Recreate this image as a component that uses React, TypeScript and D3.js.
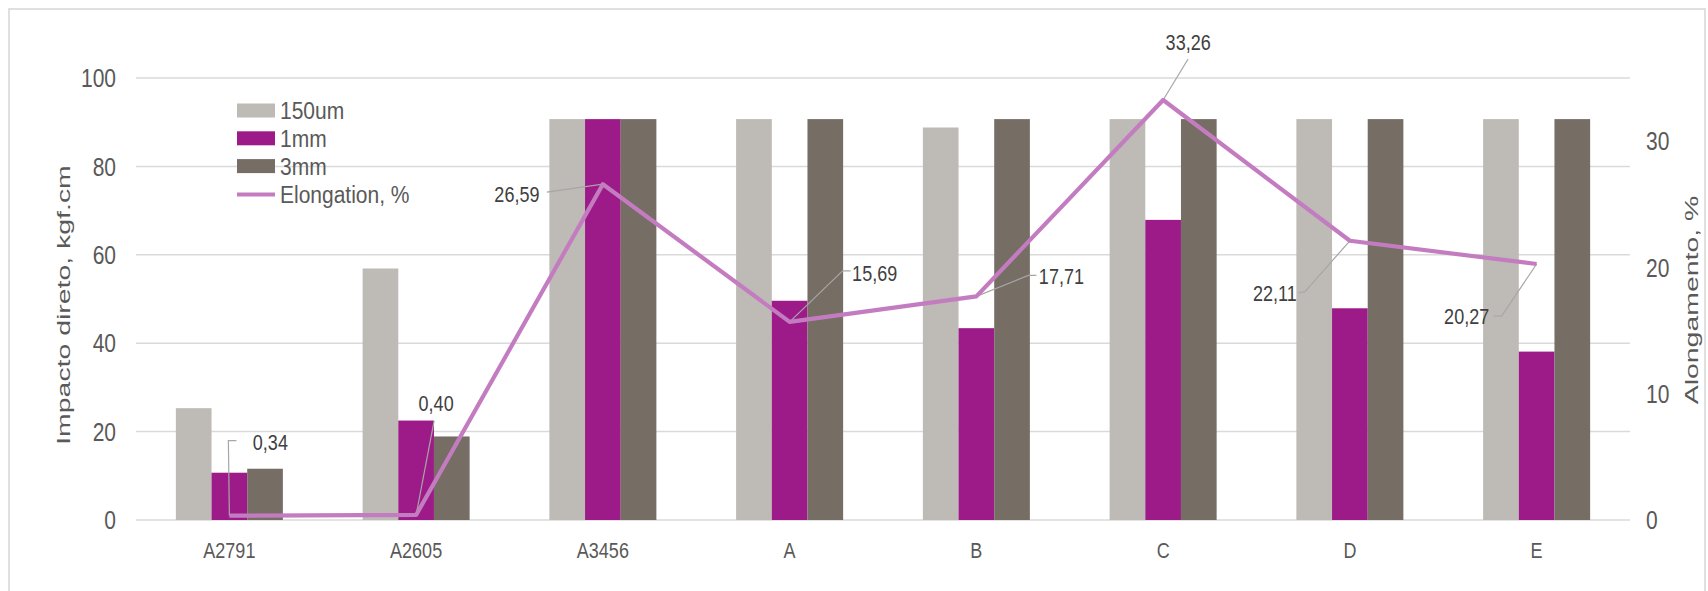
import React from "react";
import * as d3 from "d3";

// ---------- data ----------
const categories = ["A2791", "A2605", "A3456", "A", "B", "C", "D", "E"];
const seriesNames = ["150um", "1mm", "3mm"];
const s150um = [25.3, 56.9, 90.7, 90.7, 88.8, 90.7, 90.7, 90.7];
const s1mm = [10.7, 22.5, 90.7, 49.6, 43.4, 67.9, 47.9, 38.1];
const s3mm = [11.6, 18.9, 90.7, 90.7, 90.7, 90.7, 90.7, 90.7];
const elongationName = "Elongation, %";
const elongation = [0.34, 0.4, 26.59, 15.69, 17.71, 33.26, 22.11, 20.27];
const leftTicks = [0, 20, 40, 60, 80, 100];
const rightTicks = [0, 10, 20, 30];
const leftTitle = "Impacto direto, kgf.cm";
const rightTitle = "Alongamento, %";

// ---------- layout / style ----------
const W = 1708;
const H = 591;
const M = { left: 136, right: 1630, top: 78, bottom: 520 };
const colors = ["#BEBAB5", "#9D1B88", "#766D65"];
const lineColor = "#C47CC1";
const gridColor = "#DADADA";
const textColor = "#595959";
const FONT = "'Liberation Sans', Arial, sans-serif";

// label placement relative to the data point: text centre (tx,ty), leader path points
const labelLayout = [
  { tx: 41, ty: -74, leader: [[-1, -75], [7, -75]] },
  { tx: 20, ty: -112, leader: [[18, -94]] },
  { tx: -86, ty: 10, leader: [[-56, 8]] },
  { tx: 85, ty: -49, leader: [[53, -51], [61, -51]] },
  { tx: 85, ty: -20, leader: [[52, -21], [60, -21]] },
  { tx: 25, ty: -58, leader: [[25, -41]] },
  { tx: -75, ty: 52, leader: [[-45, 51], [-51, 52]] },
  { tx: -70, ty: 52, leader: [[-35, 52], [-43, 52]] },
];

function T(props: {
  x: number;
  y: number;
  f: number;
  ky: number;
  anchor?: string;
  rotate?: boolean;
  fill?: string;
  children: React.ReactNode;
}) {
  const { x, y, f, ky, anchor = "middle", rotate = false, fill = textColor } = props;
  return (
    <text
      transform={`translate(${x},${y}) scale(1,${ky})${rotate ? " rotate(-90)" : ""}`}
      fontFamily={FONT}
      fontSize={f}
      textAnchor={anchor}
      dy={rotate ? undefined : "0.36em"}
      fill={fill}
    >
      {props.children}
    </text>
  );
}

export default function App() {
  const series = [s150um, s1mm, s3mm];
  const x0 = d3
    .scaleBand<string>()
    .domain(categories)
    .range([M.left, M.right])
    .paddingInner(0.427)
    .paddingOuter(0.2135);
  const x1 = d3
    .scaleBand<string>()
    .domain(seriesNames)
    .range([0, x0.bandwidth()]);
  const yL = d3.scaleLinear().domain([0, 100]).range([M.bottom, M.top]);
  const yR = d3.scaleLinear().domain([0, 35]).range([M.bottom, M.top]);
  const cx = (c: string) => (x0(c) as number) + x0.bandwidth() / 2;

  const line = d3
    .line<number>()
    .x((_, i) => cx(categories[i]))
    .y((d) => yR(d));

  const fmt = (v: number) => d3.format(".2f")(v).replace(".", ",");

  const legendRows = [110.5, 138.3, 166.1, 194.5];

  return (
    <svg
      width={W}
      height={H}
      style={{ position: "fixed", left: 0, top: 0, background: "#fff" }}
    >
      <rect x={0} y={0} width={W} height={H} fill="#fff" />
      {/* frame */}
      <rect x={9} y={9} width={1696} height={620} fill="none" stroke="#D9D9D9" strokeWidth={1.6} />

      {/* gridlines */}
      {leftTicks.map((t) => (
        <line key={t} x1={M.left} x2={M.right} y1={yL(t)} y2={yL(t)} stroke={gridColor} strokeWidth={1.5} />
      ))}

      {/* bars */}
      {categories.map((c, i) => (
        <g key={c} transform={`translate(${x0(c)},0)`}>
          {seriesNames.map((s, j) => (
            <rect
              key={s}
              x={x1(s)}
              y={yL(series[j][i])}
              width={x1.bandwidth()}
              height={yL(0) - yL(series[j][i])}
              fill={colors[j]}
            />
          ))}
        </g>
      ))}

      {/* leader lines */}
      {elongation.map((v, i) => {
        const px = cx(categories[i]);
        const py = yR(v);
        const pts = [[px, py], ...labelLayout[i].leader.map(([dx, dy]) => [px + dx, py + dy])];
        return (
          <polyline
            key={"ld" + i}
            points={pts.map((p) => p.join(",")).join(" ")}
            fill="none"
            stroke="#A6A6A6"
            strokeWidth={1.2}
          />
        );
      })}

      {/* elongation line */}
      <path d={line(elongation) as string} fill="none" stroke={lineColor} strokeWidth={4.2} strokeLinejoin="round" />

      {/* data labels */}
      {elongation.map((v, i) => {
        const px = cx(categories[i]);
        const py = yR(v);
        return (
          <T key={"lb" + i} x={px + labelLayout[i].tx} y={py + labelLayout[i].ty} f={18} ky={1.25} fill="#404040">
            {fmt(v)}
          </T>
        );
      })}

      {/* left ticks */}
      {leftTicks.map((t) => (
        <T key={"lt" + t} x={116} y={yL(t)} f={21} ky={1.22} anchor="end">
          {t}
        </T>
      ))}
      {/* right ticks */}
      {rightTicks.map((t) => (
        <T key={"rt" + t} x={1646} y={yR(t)} f={21} ky={1.22} anchor="start">
          {t}
        </T>
      ))}
      {/* category labels */}
      {categories.map((c) => (
        <T key={"c" + c} x={cx(c)} y={550} f={18} ky={1.25}>
          {c}
        </T>
      ))}

      {/* axis titles */}
      <T x={70} y={305} f={18} ky={1.58} rotate>
        {leftTitle}
      </T>
      <T x={1698} y={300} f={18} ky={1.58} rotate>
        {rightTitle}
      </T>

      {/* legend */}
      {seriesNames.map((s, j) => (
        <g key={"lg" + s}>
          <rect x={237} y={legendRows[j] - 7} width={38} height={14} fill={colors[j]} />
          <T x={280} y={legendRows[j]} f={21} ky={1.13} anchor="start">
            {s}
          </T>
        </g>
      ))}
      <line x1={237} x2={275} y1={legendRows[3]} y2={legendRows[3]} stroke={lineColor} strokeWidth={4} />
      <T x={280} y={legendRows[3]} f={21} ky={1.13} anchor="start">
        {elongationName}
      </T>
    </svg>
  );
}
